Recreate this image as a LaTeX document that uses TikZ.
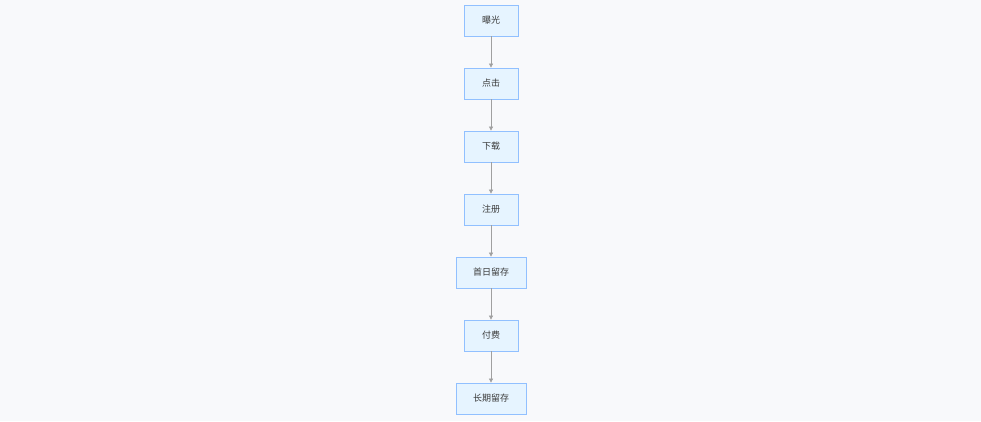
\documentclass[tikz,border=0pt]{standalone}
\usepackage{fontspec}
\newfontfamily\cjk{Noto Sans CJK SC}
\usetikzlibrary{arrows.meta}
\definecolor{bgc}{HTML}{F8F9FB}
\definecolor{boxfill}{HTML}{E6F4FF}
\definecolor{boxline}{HTML}{91C0FF}
\definecolor{txtc}{HTML}{3A3A3A}
\definecolor{arrc}{HTML}{A0A0A0}
\tikzset{
  stepbox/.style={draw=boxline, fill=boxfill, line width=0.8pt, minimum height=31pt, inner sep=0pt, font=\cjk\fontsize{9}{9}\selectfont, text=txtc},
  narrow/.style={stepbox, minimum width=54pt},
  wide/.style={stepbox, minimum width=70pt},
  conn/.style={draw=arrc, line width=0.7pt, -{Triangle[length=4pt,width=4pt]}}
}
\begin{document}
\begin{tikzpicture}[x=1pt,y=-1pt]
\fill[bgc] (0,0) rectangle (981,421);
\useasboundingbox (0,0) rectangle (981,421);
\node[narrow] (a) at (491,20.5) {曝光};
\node[narrow] (b) at (491,83.5) {点击};
\node[narrow] (c) at (491,146.5) {下载};
\node[narrow] (d) at (491,209.5) {注册};
\node[wide] (e) at (491,272.5) {首日留存};
\node[narrow] (f) at (491,335.5) {付费};
\node[wide] (g) at (491,398.5) {长期留存};
\draw[conn] (a) -- (b);
\draw[conn] (b) -- (c);
\draw[conn] (c) -- (d);
\draw[conn] (d) -- (e);
\draw[conn] (e) -- (f);
\draw[conn] (f) -- (g);
\end{tikzpicture}
\end{document}
